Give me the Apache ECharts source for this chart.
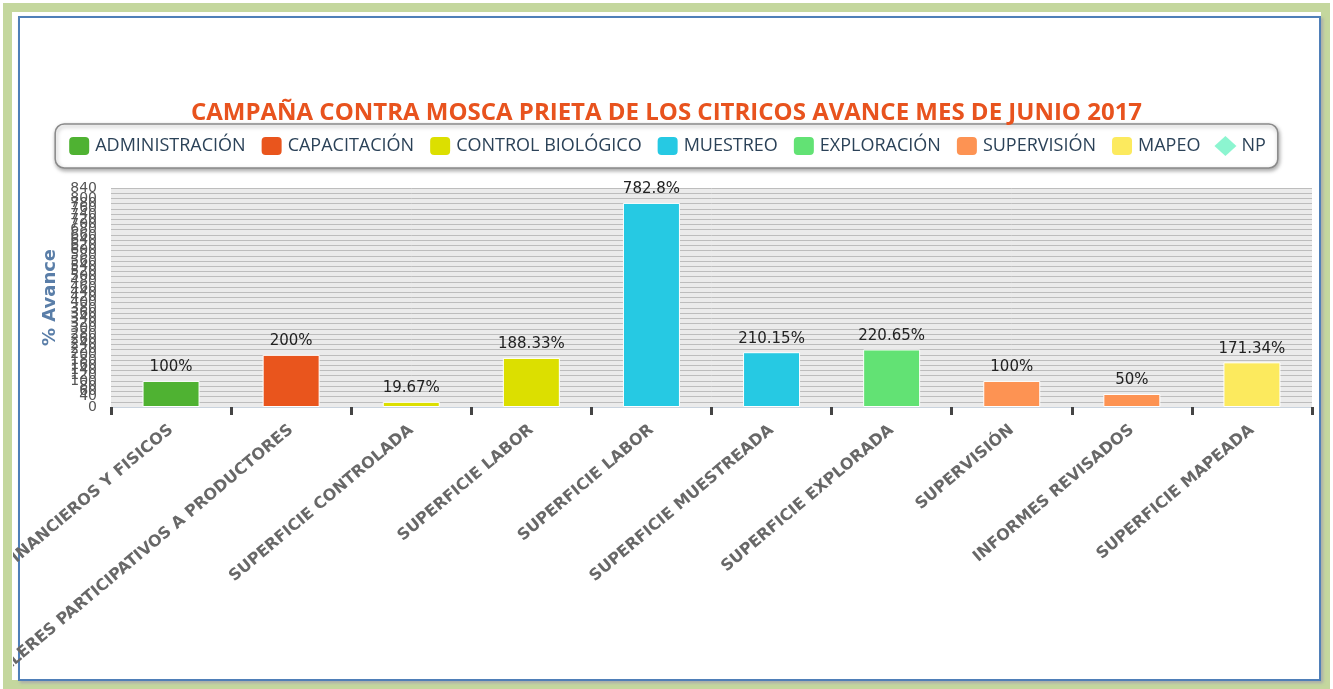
<!DOCTYPE html>
<html>
<head>
<meta charset="utf-8">
<title>Campaña contra mosca prieta</title>
<script src="https://cdn.jsdelivr.net/npm/echarts@6/dist/echarts.min.js"></script>
<style>
  html, body { margin: 0; padding: 0; background: #fff; width: 1333px; height: 689px; overflow: hidden; }
  #frame { position: absolute; left: 3px; top: 3px; width: 1309px; height: 668px; border: 9px solid #c4d79e; }
  #panel { position: absolute; left: 18px; top: 16px; width: 1299px; height: 661px; border: 2px solid #4f7fb8; box-shadow: 2px 2px 3px #aaa; background: #fff; }
  #chart { position: absolute; left: 13px; top: 13px; width: 1307px; height: 667px; }
</style>
</head>
<body>
<div id="frame"></div>
<div id="panel"></div>
<div id="chart"></div>
<script>
// categorias del eje x
var categories = [
    'INFORMES FINANCIEROS Y FISICOS',
    'TALLERES PARTICIPATIVOS A PRODUCTORES',
    'SUPERFICIE CONTROLADA',
    'SUPERFICIE LABOR',
    'SUPERFICIE LABOR',
    'SUPERFICIE MUESTREADA',
    'SUPERFICIE EXPLORADA',
    'SUPERVISIÓN',
    'INFORMES REVISADOS',
    'SUPERFICIE MAPEADA'
];

// % avance por componente
var administracion   = [100, '-', '-', '-', '-', '-', '-', '-', '-', '-'];
var capacitacion     = ['-', 200, '-', '-', '-', '-', '-', '-', '-', '-'];
var controlBiologico = ['-', '-', 19.67, 188.33, '-', '-', '-', '-', '-', '-'];
var muestreo         = ['-', '-', '-', '-', 782.8, 210.15, '-', '-', '-', '-'];
var exploracion      = ['-', '-', '-', '-', '-', '-', 220.65, '-', '-', '-'];
var supervision      = ['-', '-', '-', '-', '-', '-', '-', 100, 50, '-'];
var mapeo            = ['-', '-', '-', '-', '-', '-', '-', '-', '-', 171.34];
var np               = [];

var yMin = 0, yMax = 840, yStep = 20;

var colores = {
    'ADMINISTRACIÓN': '#4fb232',
    'CAPACITACIÓN': '#e9551d',
    'CONTROL BIOLÓGICO': '#dcdf00',
    'MUESTREO': '#26c9e3',
    'EXPLORACIÓN': '#62e274',
    'SUPERVISIÓN': '#fd9353',
    'MAPEO': '#fcea5e',
    'NP': '#6ff2c4'
};

function barra(nombre, datos) {
    return {
        name: nombre,
        type: 'bar',
        stack: 'avance',
        barWidth: 57,
        data: datos,
        itemStyle: { color: colores[nombre], borderColor: '#ffffff', borderWidth: 1 },
        label: {
            show: true,
            position: 'top',
            distance: 6,
            formatter: '{c}%',
            color: '#222',
            fontFamily: 'DejaVu Sans',
            fontSize: 15
        }
    };
}

var myChart = echarts.init(document.getElementById('chart'));
myChart.setOption({
    animation: false,
    title: {
        text: 'CAMPAÑA CONTRA MOSCA PRIETA DE LOS CITRICOS AVANCE MES DE JUNIO 2017',
        left: 'center',
        top: 83,
        textStyle: { color: '#e8531e', fontFamily: 'Open Sans', fontWeight: 'bold', fontSize: 24 }
    },
    legend: {
        top: 111,
        left: 'center',
        itemWidth: 22,
        itemHeight: 20,
        itemGap: 14,
        padding: [11, 12],
        borderColor: '#8a8a8a',
        borderWidth: 1.5,
        borderRadius: 9,
        backgroundColor: '#fff',
        shadowBlur: 4,
        shadowColor: 'rgba(0,0,0,0.35)',
        shadowOffsetX: 1,
        shadowOffsetY: 2,
        textStyle: { color: '#2b4258', fontFamily: 'Open Sans', fontSize: 18 },
        data: [
            { name: 'ADMINISTRACIÓN', icon: 'roundRect' },
            { name: 'CAPACITACIÓN', icon: 'roundRect' },
            { name: 'CONTROL BIOLÓGICO', icon: 'roundRect' },
            { name: 'MUESTREO', icon: 'roundRect' },
            { name: 'EXPLORACIÓN', icon: 'roundRect' },
            { name: 'SUPERVISIÓN', icon: 'roundRect' },
            { name: 'MAPEO', icon: 'roundRect' },
            { name: 'NP', icon: 'diamond' }
        ]
    },
    grid: {
        left: 98,
        right: 8,
        top: 175,
        bottom: 273,
        outerBoundsMode: 'none',
        containLabel: false,
        show: true,
        backgroundColor: '#ebebeb',
        borderWidth: 0
    },
    xAxis: {
        type: 'category',
        data: categories,
        axisLine: { show: true, lineStyle: { color: '#c9d3de' } },
        axisTick: { show: true, inside: false, length: 8, lineStyle: { color: '#444', width: 3 } },
        axisLabel: {
            rotate: 40,
            margin: 21,
            interval: 0,
            hideOverlap: false,
            color: '#686868',
            fontFamily: 'DejaVu Sans',
            fontWeight: 'bold',
            fontSize: 16
        }
    },
    yAxis: {
        type: 'value',
        min: yMin,
        max: yMax,
        interval: yStep,
        name: '% Avance',
        nameLocation: 'middle',
        nameGap: 51,
        nameTextStyle: { color: '#5a7ea8', fontFamily: 'DejaVu Sans', fontWeight: 'bold', fontSize: 18 },
        axisLine: { show: false },
        axisTick: { show: false },
        axisLabel: {
            color: '#555', fontFamily: 'DejaVu Sans', fontSize: 14, margin: 14,
            hideOverlap: false, showMinLabel: true, showMaxLabel: true
        },
        splitLine: { lineStyle: { color: '#bdbdbd', width: 1 } }
    },
    series: [
        barra('ADMINISTRACIÓN', administracion),
        barra('CAPACITACIÓN', capacitacion),
        barra('CONTROL BIOLÓGICO', controlBiologico),
        barra('MUESTREO', muestreo),
        barra('EXPLORACIÓN', exploracion),
        barra('SUPERVISIÓN', supervision),
        barra('MAPEO', mapeo),
        {
            name: 'NP',
            type: 'scatter',
            symbol: 'diamond',
            data: np,
            itemStyle: { color: colores['NP'] }
        }
    ]
});
</script>
</body>
</html>
